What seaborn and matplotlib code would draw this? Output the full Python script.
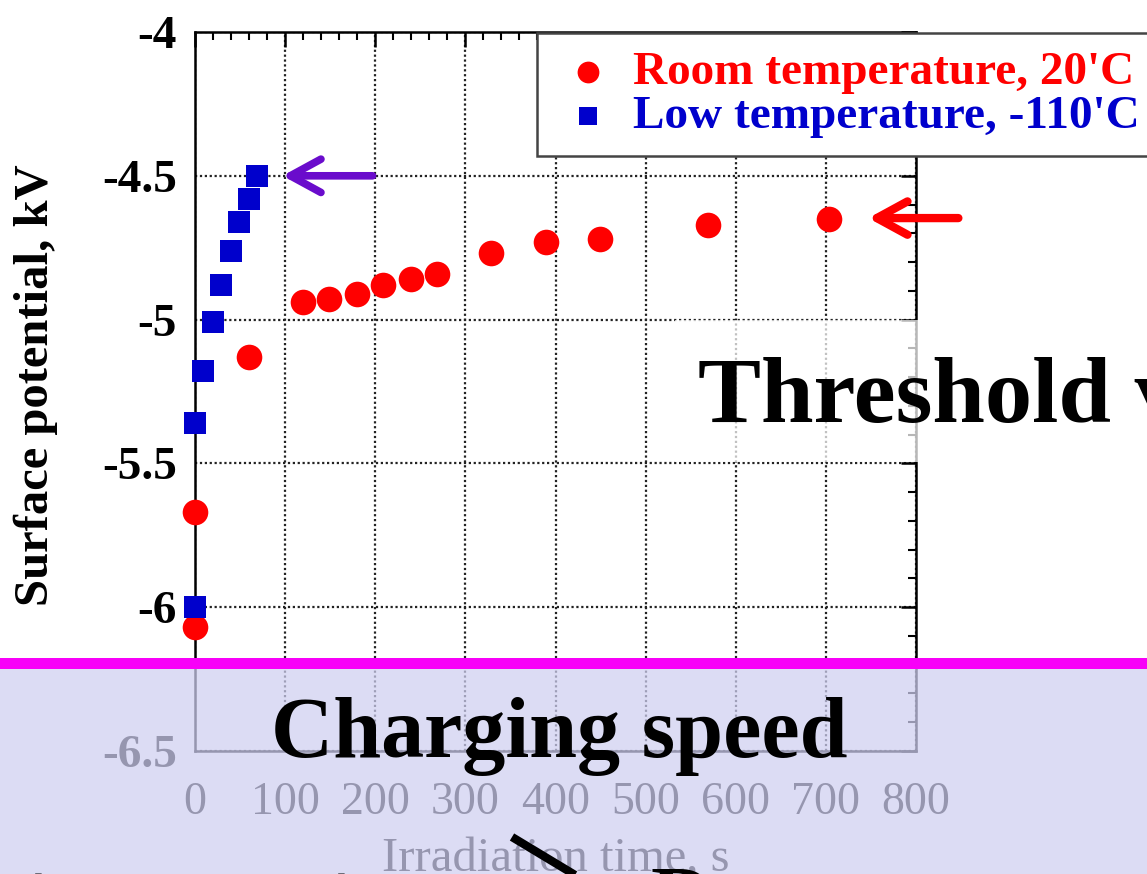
import numpy as np
import pandas as pd
import matplotlib
matplotlib.use("Agg")
import matplotlib.pyplot as plt
import seaborn as sns
from matplotlib.patches import Rectangle
from matplotlib.lines import Line2D

# ---------------- data ----------------
room_time = [0, 0, 60, 120, 149, 180, 209, 240, 269, 328, 389, 449, 569, 704]
room_pot = [-6.07, -5.67, -5.13, -4.94, -4.93, -4.91, -4.88, -4.86, -4.84,
            -4.77, -4.73, -4.72, -4.67, -4.65]
low_time = [0, 0, 9, 20, 29, 40, 49, 60, 69]
low_pot = [-6.00, -5.36, -5.18, -5.01, -4.88, -4.76, -4.66, -4.58, -4.50]

series_labels = ["Room temperature, 20'C", "Low temperature, -110'C"]
series_colors = ["#ff0000", "#0000cc"]

x_ticks = [0, 100, 200, 300, 400, 500, 600, 700, 800]
x_ticklabels = ["0", "100", "200", "300", "400", "500", "600", "700", "800"]
y_ticks = [-6.5, -6.0, -5.5, -5.0, -4.5, -4.0]
y_ticklabels = ["-6.5", "-6", "-5.5", "-5", "-4.5", "-4"]

x_label = "Irradiation time, s"
y_label = "Surface potential, kV"

# ---------------- style ----------------
sns.set_theme(style="white")
plt.rcParams["font.family"] = ["Liberation Serif", "DejaVu Serif"]
plt.rcParams["axes.unicode_minus"] = False

W, H = 1147, 874
fig = plt.figure(figsize=(W / 100, H / 100), dpi=100)
fig.patch.set_facecolor("white")

def fx(px):
    return px / W

def fy(py):
    return 1 - py / H

L, R, T, B = 195, 916, 32, 751
ax = fig.add_axes([fx(L), fy(B), fx(R - L), (B - T) / H])
ax.set_facecolor("white")

room_df = pd.DataFrame({"time": room_time, "pot": room_pot})
low_df = pd.DataFrame({"time": low_time, "pot": low_pot})

sns.scatterplot(data=room_df, x="time", y="pot", ax=ax, color=series_colors[0],
                marker="o", s=340, linewidth=0, label=series_labels[0],
                zorder=4, clip_on=False)
sns.scatterplot(data=low_df, x="time", y="pot", ax=ax, color=series_colors[1],
                marker="s", s=255, linewidth=0, label=series_labels[1],
                zorder=4, clip_on=False)

ax.set_xlim(0, 800)
ax.set_ylim(-6.5, -4.0)
ax.set_xticks(x_ticks)
ax.set_xticklabels(x_ticklabels, fontsize=33, color="black")
ax.set_yticks(y_ticks)
ax.set_yticklabels(y_ticklabels, fontsize=34, fontweight="bold", color="black")
ax.set_xticks(np.arange(0, 801, 20), minor=True)
ax.set_yticks(np.arange(-6.5, -3.99, 0.1), minor=True)

ax.tick_params(axis="both", which="major", direction="in", top=True, right=True,
               length=11, width=1.8, color="black")
ax.tick_params(axis="both", which="minor", direction="in", top=True, right=True,
               length=6, width=1.5, color="black")
ax.tick_params(axis="x", which="major", pad=22)
ax.tick_params(axis="y", which="major", pad=13)

for sp in ax.spines.values():
    sp.set_visible(True)
    sp.set_color("black")
    sp.set_linewidth(1.8)

ax.grid(True, which="major", linestyle=(0, (1, 1.2)), color="#222222", linewidth=1.6)
ax.set_axisbelow(True)

ax.set_xlabel(x_label, fontsize=35, labelpad=10, color="black")
ax.set_ylabel(y_label, fontsize=35, fontweight="bold", color="black")
ax.yaxis.set_label_coords(-0.19, 0.509)

# legend
handles, labels = ax.get_legend_handles_labels()
leg = ax.legend(handles, labels, loc="upper left",
                bbox_to_anchor=(fx(537), fy(33)), bbox_transform=fig.transFigure,
                borderaxespad=0, frameon=True, fancybox=False, framealpha=1,
                edgecolor="#444444", borderpad=0.38, handlelength=1.4,
                handletextpad=0.25, labelspacing=0.02, markerscale=0.85,
                prop={"family": "Liberation Serif", "weight": "bold", "size": 34})
leg.get_frame().set_linewidth(1.8)
for txt, col in zip(leg.get_texts(), series_colors):
    txt.set_color(col)
leg.set_zorder(6)

# arrows
ax.annotate("", xy=(97, -4.5), xytext=(197, -4.5), annotation_clip=False,
            arrowprops=dict(arrowstyle="->,head_length=1.1,head_width=0.6",
                            color="#6a0ccc", lw=5.5, mutation_scale=20,
                            shrinkA=0, shrinkB=0, capstyle="round",
                            joinstyle="round"), zorder=7)
ax.annotate("", xy=(747, -4.647), xytext=(847, -4.647), annotation_clip=False,
            arrowprops=dict(arrowstyle="->,head_length=1.1,head_width=0.6",
                            color="#ff0000", lw=6, mutation_scale=20,
                            shrinkA=0, shrinkB=0, capstyle="round",
                            joinstyle="round"), zorder=7)

# translucent white box behind "Threshold"
fig.add_artist(Rectangle((fx(675), fy(462)), fx(W - 675), (462 - 320) / H,
                         transform=fig.transFigure, facecolor="white",
                         edgecolor="none", alpha=0.72, zorder=2))
fig.text(fx(698), fy(422), "Threshold voltage", fontsize=68, fontweight="bold",
         color="black", ha="left", va="baseline", zorder=5)

# lavender overlay on the lower part
fig.add_artist(Rectangle((0, 0), 1, fy(664), transform=fig.transFigure,
                         facecolor="#cfcff1", edgecolor="none", alpha=0.73, zorder=3))
fig.add_artist(Rectangle((0, fy(669)), 1, 11 / H, transform=fig.transFigure,
                         facecolor="#f800f8", edgecolor="none", zorder=4))

fig.text(fx(559), fy(757), "Charging speed", fontsize=62, fontweight="bold",
         color="black", ha="center", va="baseline", zorder=5)

# cut-off fragments of the next text line at the bottom edge
for xp in (37, 340):
    fig.text(fx(xp), fy(864), "t", fontsize=62, fontweight="bold", color="black",
             ha="center", va="top", zorder=5)
fig.text(fx(650), fy(866), "D", fontsize=62, fontweight="bold", color="black",
         ha="left", va="top", zorder=5)
fig.text(fx(905), fy(868), "t", fontsize=40, fontweight="bold", color="black",
         ha="center", va="top", zorder=5)
fig.add_artist(Line2D([fx(512), fx(590)], [fy(837), fy(884)],
                      transform=fig.transFigure, color="black", lw=6,
                      solid_capstyle="butt", zorder=5))

fig.savefig("out.png", dpi=100, facecolor="white")
